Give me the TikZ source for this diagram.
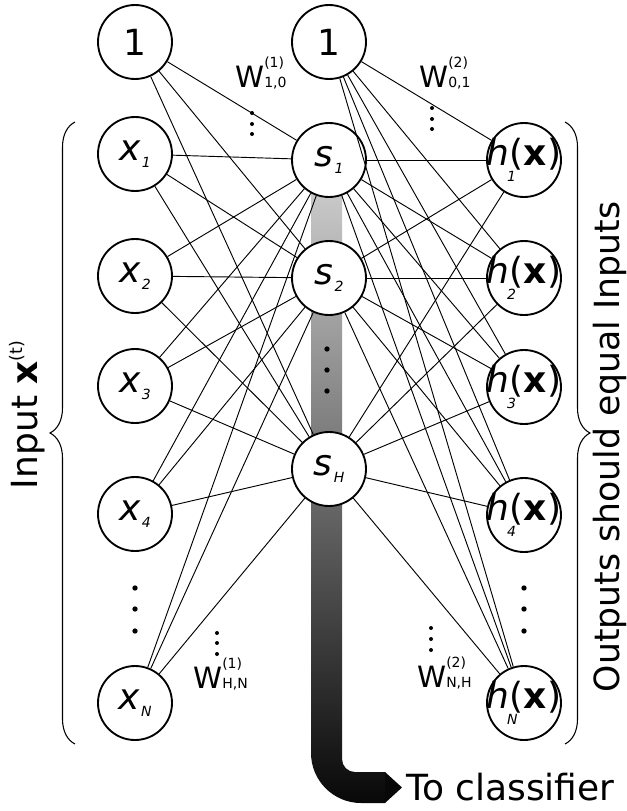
\documentclass[tikz,border=0pt]{standalone}
\usepackage{fontspec}
\setmainfont{DejaVu Sans}
\usetikzlibrary{decorations.pathreplacing}
\definecolor{bartop}{RGB}{205,205,205}
\definecolor{barbot}{RGB}{8,8,8}
\newcommand\subf{\fontsize{10.5}{11}\selectfont}
\newcommand\nsub[1]{\raisebox{-5pt}{\subf\itshape #1}}
\newcommand\nlab[2]{\makebox[0pt]{\itshape #1\kern1pt\nsub{#2}}}
\newcommand\hlab[1]{\makebox[0pt]{\itshape h\upshape\rlap{\raisebox{-12pt}{\kern-2pt\subf\itshape #1}}(\textbf{x})}}
\newcommand\wlab[2]{W\rlap{\raisebox{15pt}{\subf(#1)}}\raisebox{-0.5pt}{\subf #2}}
\tikzset{
  neuron/.style={circle, draw, fill=white, line width=1.4pt, minimum size=55.5pt, inner sep=0pt, font=\fontsize{27}{30}\selectfont},
  conn/.style={line width=0.7pt},
  bigdot/.style={fill=black},
  wtext/.style={anchor=base west, inner sep=0pt, font=\fontsize{22}{24}\selectfont},
  sidetext/.style={rotate=90, inner sep=0pt, font=\fontsize{26}{30}\selectfont},
  bracestyle/.style={decorate, line width=0.8pt, decoration={brace, amplitude=18.75pt}}
}
\begin{document}
\begin{tikzpicture}[x=0.75pt, y=-0.75pt]
\useasboundingbox (0,0) rectangle (627,811);
% gradient bar to classifier
\shade[top color=bartop, bottom color=barbot]
  (311,180) -- (311,753) .. controls (311,780.6) and (333.4,803) .. (361,803)
  -- (385,803) -- (385,772) -- (355,772) .. controls (347.8,772) and (342,766.2) .. (342,759)
  -- (342,180) -- cycle;
\fill[barbot] (385,772) -- (402,787.5) -- (385,803) -- cycle;
\node[anchor=base west, inner sep=0pt, font=\fontsize{27}{30}\selectfont] (tc) at (406,800) {To classifier};
% input layer
\node[neuron] (b1) at (135,42) {1};
\node[neuron] (x1) at (135,154) {\nlab{x}{1}};
\node[neuron] (x2) at (135,276) {\nlab{x}{2}};
\node[neuron] (x3) at (135,386) {\nlab{x}{3}};
\node[neuron] (x4) at (135,514) {\nlab{x}{4}};
\node[neuron] (xN) at (135,703) {\nlab{x}{N}};
% hidden layer
\node[neuron] (b2) at (329,42) {1};
\node[neuron] (s1) at (329,160) {\nlab{s}{1}};
\node[neuron] (s2) at (329,278) {\nlab{s}{2}};
\node[neuron] (sH) at (329,469) {\nlab{s}{H}};
% output layer
\node[neuron] (h1) at (524,160) {\hlab{1}};
\node[neuron] (h2) at (524,278) {\hlab{2}};
\node[neuron] (h3) at (524,387) {\hlab{3}};
\node[neuron] (h4) at (524,515) {\hlab{4}};
\node[neuron] (hN) at (524,703) {\hlab{N}};
% connections
\foreach \a in {b1,x1,x2,x3,x4,xN}
  \foreach \b in {s1,s2,sH}
    \draw[conn] (\a) -- (\b);
\foreach \a in {b2,s1,s2,sH}
  \foreach \b in {h1,h2,h3,h4,hN}
    \draw[conn] (\a) -- (\b);
% column ellipses
\foreach \y in {588,609,631} {
  \fill[bigdot] (135,\y) circle (2pt);
  \fill[bigdot] (524,\y) circle (2pt);
}
\foreach \y in {349,370,391}
  \fill[bigdot] (327,\y) circle (2pt);
% weight labels and ellipses
\foreach \y in {113,124,134} \fill (252,\y) circle (1.5pt);
\foreach \y in {108,119,129} \fill (432,\y) circle (1.5pt);
\foreach \y in {633,643,654} \fill (217,\y) circle (1.5pt);
\foreach \y in {628,639,650} \fill (431,\y) circle (1.5pt);
\node[wtext] (w1) at (235,87) {\wlab{1}{1,0}};
\node[wtext] (w2) at (419,87) {\wlab{2}{0,1}};
\node[wtext] (w3) at (193,688) {\wlab{1}{H,N}};
\node[wtext] (w4) at (417,687) {\wlab{2}{N,H}};
% braces and side labels
\draw[bracestyle] (75,744) -- (75,122);
\draw[bracestyle] (565,122) -- (565,744);
\node[sidetext, font=\fontsize{27}{30}\selectfont] (inp) at (27,415) {Input \textbf{x}\raisebox{11pt}{\fontsize{13}{13}\selectfont(t)}};
\node[sidetext] (outp) at (610,447) {Outputs should equal Inputs};
\end{tikzpicture}
\end{document}
